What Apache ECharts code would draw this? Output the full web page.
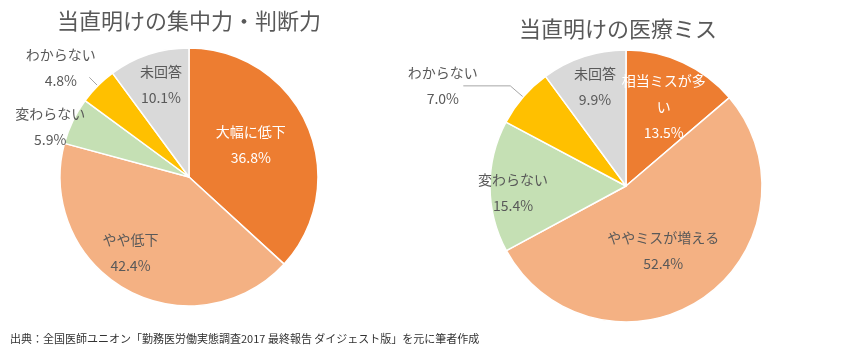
<!DOCTYPE html>
<html>
<head>
<meta charset="utf-8">
<script src="https://cdn.jsdelivr.net/npm/echarts@6/dist/echarts.min.js"></script>
<style>
  html, body { margin: 0; padding: 0; background: #fff; }
  #chart { width: 860px; height: 352px; }
</style>
</head>
<body>
<div id="chart"></div>
<script>
    // 集中力・判断力 (左)
    var focusNames = ['大幅に低下', 'やや低下', '変わらない', 'わからない', '未回答'];
    var focusValues = [36.8, 42.4, 5.9, 4.8, 10.1];

    // 医療ミス (右)
    var errorNames = ['相当ミスが多い', 'ややミスが増える', '変わらない', 'わからない', '未回答'];
    var errorValues = [13.5, 52.4, 15.4, 7.0, 9.9];

    var sliceColors = ['#ED7D31', '#F4B183', '#C5E0B4', '#FFC000', '#D9D9D9'];
    var titles = ['当直明けの集中力・判断力', '当直明けの医療ミス'];
    var sourceNote = '出典：全国医師ユニオン「勤務医労働実態調査2017 最終報告 ダイジェスト版」を元に筆者作成';

    var FONT = '"Noto Sans CJK JP", "Noto Sans", sans-serif';
    var GRAY = '#595959';

    function pct(v) {
        return v.toFixed(1) + '%';
    }

    function buildData(names, values) {
        return names.map(function (n, i) {
            return {
                name: n,
                value: values[i],
                itemStyle: { color: sliceColors[i] }
            };
        });
    }

    // label with both lines centred in a fixed box (for outside labels)
    function outsideLabel() {
        return {
            position: 'outside',
            formatter: function (p) { return '{a|' + p.name + '}\n{a|' + pct(p.value) + '}'; },
            rich: { a: { width: 75, align: 'center', fontSize: 14, lineHeight: 26, color: GRAY, fontFamily: FONT } }
        };
    }

    var chart = echarts.init(document.getElementById('chart'));

    var leftData = buildData(focusNames, focusValues);
    var rightData = buildData(errorNames, errorValues);

    // orange slice labels are white
    leftData[0].label = { color: '#fff' };
    rightData[0].label = { color: '#fff', width: 90, overflow: 'break' };

    // わからない: outside with a leader line
    leftData[3].label = outsideLabel();
    leftData[3].labelLine = { show: true, length: 12, length2: 0 };
    rightData[3].label = outsideLabel();
    rightData[3].labelLine = { show: true, length: 17, length2: 47 };

    // nudges relative to the library's label position
    var leftShift = [[0, -5], [-26, 17], [-78, -21], [14, -10], [-7, -28]];
    var rightShift = [[8, -15], [-3, 6], [-42, 6], [22, 0], [-9, -32]];

    function pieSeries(data, center, radius, shift) {
        return {
            type: 'pie',
            center: center,
            radius: radius,
            startAngle: 90,
            clockwise: true,
            avoidLabelOverlap: false,
            animation: false,
            itemStyle: { borderColor: '#fff', borderWidth: 1.5 },
            label: {
                show: true,
                position: 'inside',
                color: GRAY,
                fontSize: 14,
                lineHeight: 26,
                fontFamily: FONT,
                formatter: function (p) { return p.name + '\n' + pct(p.value); }
            },
            labelLine: {
                show: false,
                lineStyle: { color: '#A6A6A6', width: 1 }
            },
            labelLayout: function (p) {
                var s = shift[p.dataIndex];
                return { dx: s[0], dy: s[1] };
            },
            data: data
        };
    }

    var option = {
        backgroundColor: '#fff',
        title: [{
            text: titles[0],
            left: 189,
            top: 10,
            textAlign: 'center',
            padding: 0,
            textStyle: { color: GRAY, fontSize: 22, fontWeight: 'normal', fontFamily: FONT }
        }, {
            text: titles[1],
            left: 618,
            top: 18,
            textAlign: 'center',
            padding: 0,
            textStyle: { color: GRAY, fontSize: 22, fontWeight: 'normal', fontFamily: FONT }
        }, {
            text: sourceNote,
            left: 10,
            top: 333,
            padding: 0,
            textStyle: { color: '#333', fontSize: 11, fontWeight: 'normal', fontFamily: FONT }
        }],
        series: [
            pieSeries(leftData, [189, 177], 129, leftShift),
            pieSeries(rightData, [626, 186], 136, rightShift)
        ]
    };

    chart.setOption(option);
</script>
</body>
</html>
